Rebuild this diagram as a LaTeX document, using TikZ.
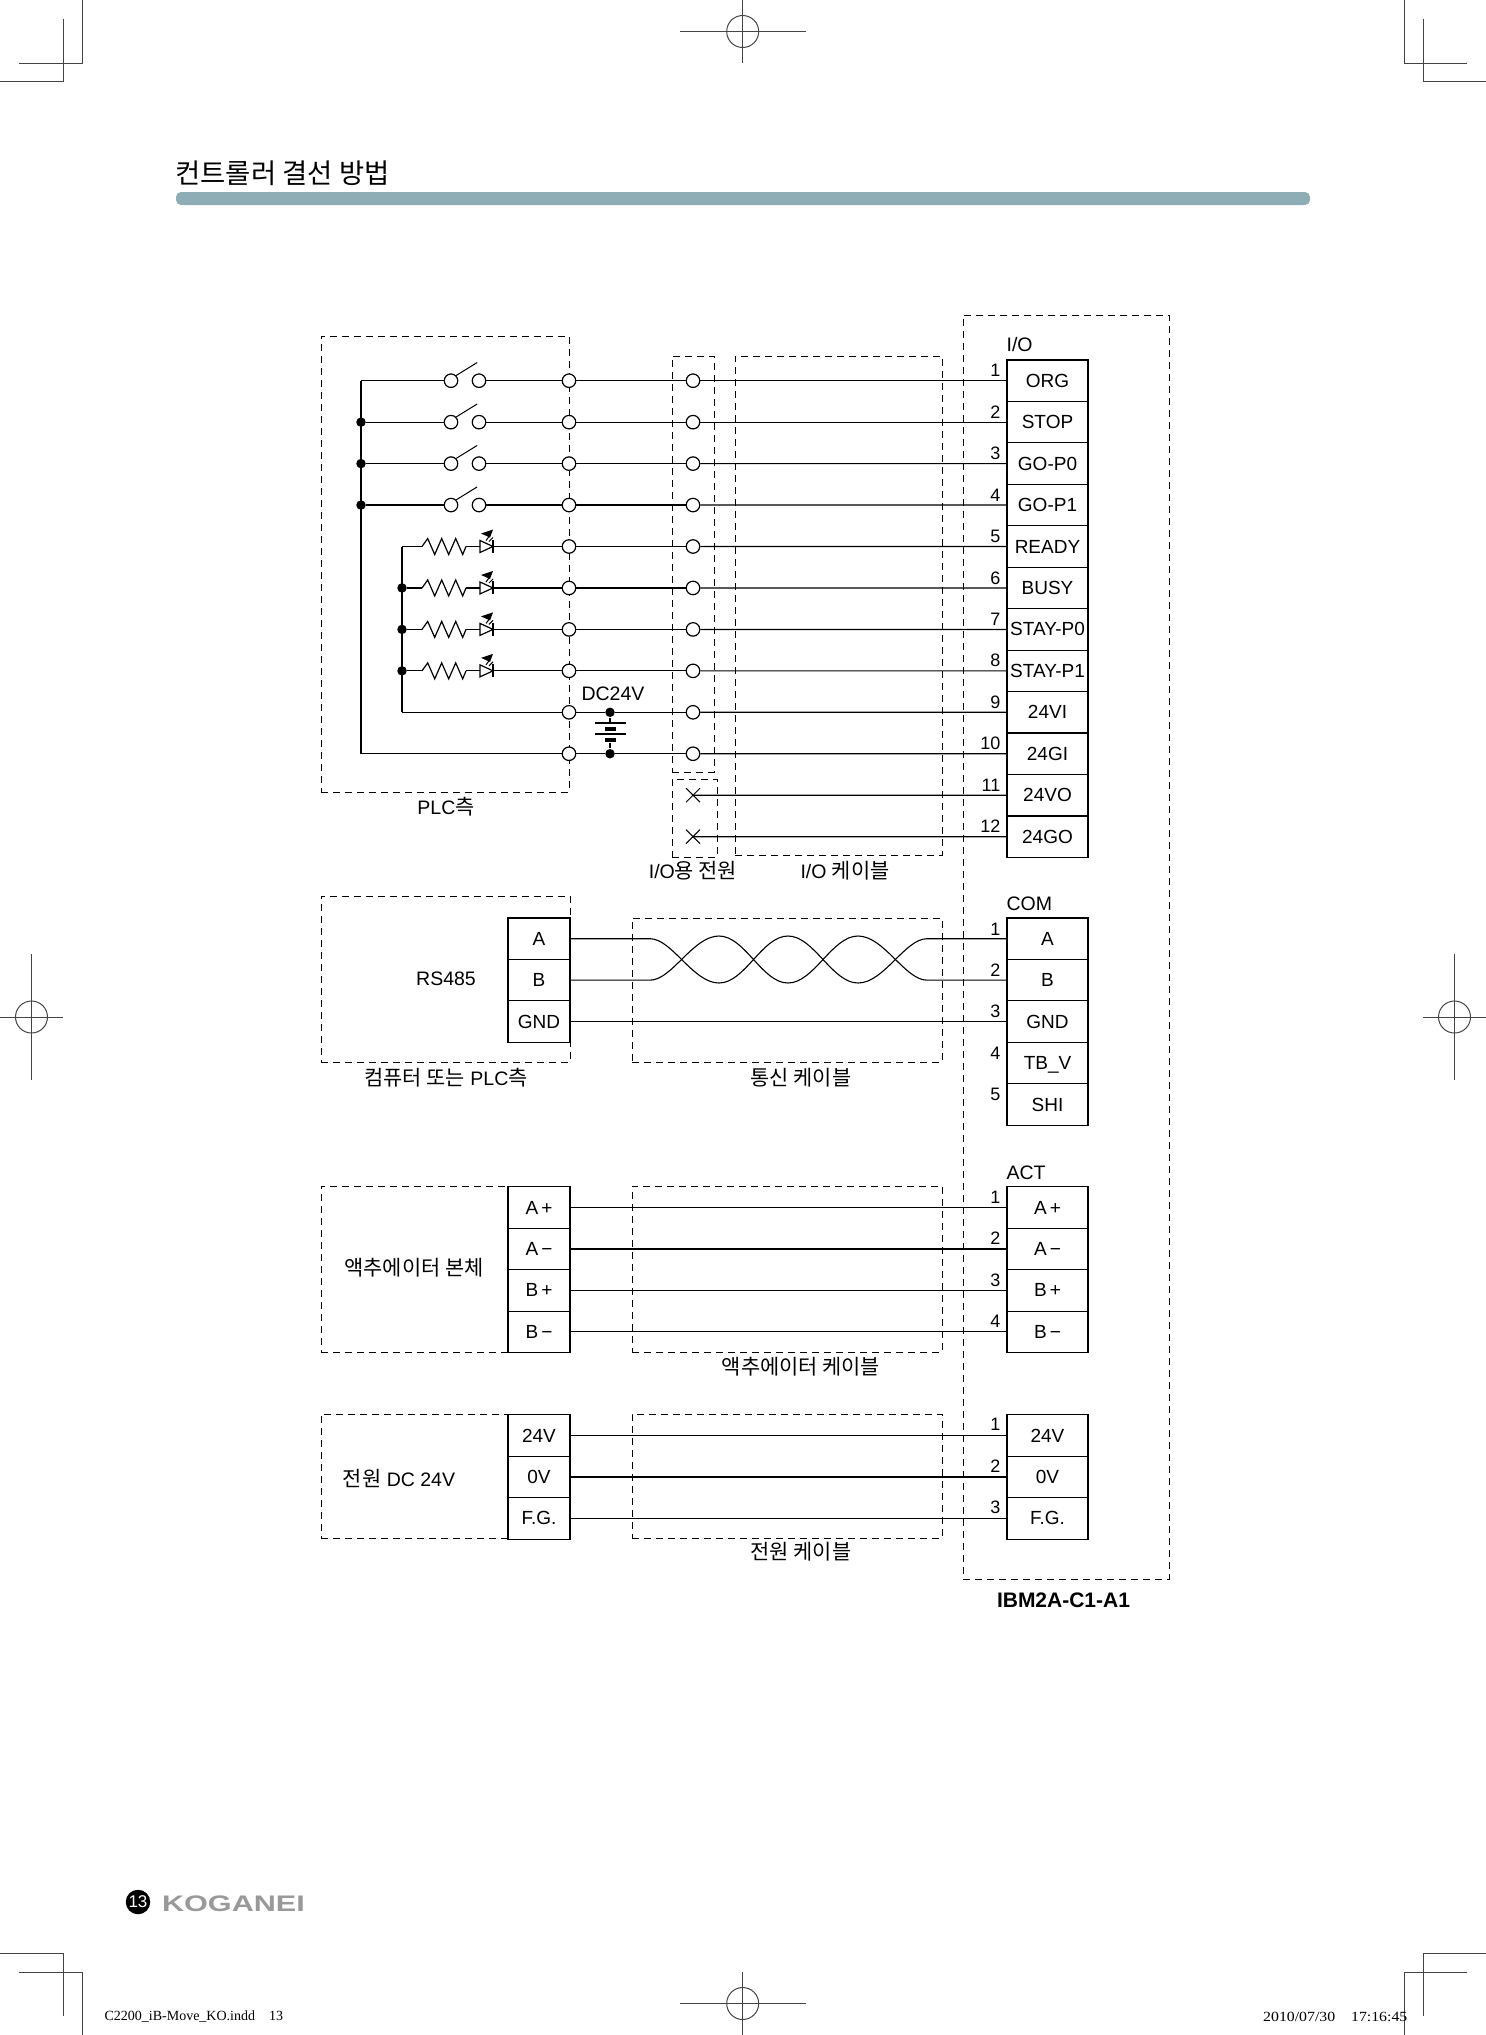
\documentclass[tikz,border=0pt]{standalone}
\usepackage{fontspec}
\usepackage{xcolor}
\usepackage{tikz}
\usetikzlibrary{shapes.misc}
\setmainfont{Liberation Sans}
\newfontfamily\krfont[Scale=1.07]{Noto Sans CJK KR}
\newfontfamily\footfont{Liberation Serif}
\newcommand{\krtext}[1]{{\krfont #1}}
\definecolor{barcol}{HTML}{8FADB5}
\definecolor{markcol}{HTML}{444444}
\definecolor{logocol}{HTML}{999999}

\tikzset{
	pics/resistor/.style={code={
		\coordinate (-in) at (-22,0);
		\coordinate (-out) at (22,0);
		\draw (-in) -- (-16.3,-8) -- (-9.3,8) -- (-2.3,-8) -- (4.7,8) -- (11.7,-8) -- (18.7,8) -- (-out);
	}},
	pics/led/.style={code={
		\coordinate (-in) at (0,0);
		\coordinate (-out) at (13,0);
		\draw[fill=white] (0,-6) -- (13,0) -- (0,6) -- cycle;
		\draw (13,-6.5) -- (13,6.5);
		\fill (1,-13) -- (13,-17) -- (10,-9) -- cycle;
		\draw[line width=1pt] (6,-6) -- (9,-10) (9,-5) -- (13,-9);
	}},
	pics/regmark/.style n args={2}{code={
		\draw[markcol, line width=1pt] (0,0) circle (16);
		\draw[markcol, line width=1pt] (-#1,0) -- (#1,0) (0,-#2) -- (0,#2);
	}}
}

\begin{document}
\begin{tikzpicture}[x=1pt,y=-1pt,line width=1.2pt,node distance=41.45pt,
	term node/.style={circle, draw, fill=white, minimum size=13.5pt, inner sep=0pt},
	dot node/.style={circle, fill=black, minimum size=9.5pt, inner sep=0pt},
	x node/.style={cross out, draw, line width=1pt, minimum size=13pt, inner sep=0pt},
	pin node/.style={rectangle, draw, fill=white, minimum width=81pt, minimum height=41.45pt, inner sep=0pt, text height=13pt, text depth=0pt, font=\fontsize{19}{22}\selectfont},
	src node/.style={pin node, minimum width=62pt},
	num node/.style={anchor=east, inner sep=0pt, font=\fontsize{18}{20}\selectfont},
	txt node/.style={inner sep=0pt, font=\fontsize{19.5}{22}\selectfont},
	dash box/.style={rectangle, draw, dash pattern=on 7pt off 5pt, line width=0.95pt, inner sep=0pt},
	plate long/.style={rectangle, fill=black, minimum width=31pt, minimum height=1.3pt, inner sep=0pt},
	plate short/.style={rectangle, fill=black, minimum width=11pt, minimum height=4.5pt, inner sep=0pt}]
	\useasboundingbox (0,0) rectangle (1486,2035);
	
	% Crop marks
	\draw[markcol, line width=1pt] (82,0) -- (82,63) -- (19,63) (63,19) -- (63,81) -- (0,81);
	\draw[markcol, line width=1pt] (1404,0) -- (1404,63) -- (1467,63) (1423,19) -- (1423,81) -- (1486,81);
	\draw[markcol, line width=1pt] (0,1953) -- (63,1953) -- (63,2016) (19,1972) -- (82,1972) -- (82,2035);
	\draw[markcol, line width=1pt] (1486,1953) -- (1423,1953) -- (1423,2016) (1467,1972) -- (1404,1972) -- (1404,2035);
	\pic at (742.7,31.5) {regmark={63}{31.5}};
	\pic at (742.7,2003.5) {regmark={63}{31.5}};
	\pic at (31.5,1017) {regmark={31.5}{63}};
	\pic at (1454.5,1017) {regmark={31.5}{63}};
	
	% Header and footer
	\node[inner sep=0pt, font=\fontsize{25.6}{30}\selectfont] (title) at (282.5,173) {\krtext{컨트롤러 결선 방법}};
	\node[fill=barcol, rounded corners=5pt, minimum width=1134pt, minimum height=13pt, inner sep=0pt] (bar) at (743,198.5) {};
	\node[circle, fill=black, text=white, minimum size=24.5pt, inner sep=0pt, font=\fontsize{17}{18}\selectfont] (pageno) at (138,1902) {13};
	\node[text=logocol, xscale=1.36, inner sep=0pt, font=\fontsize{22.5}{24}\selectfont\bfseries] (logo) at (233.5,1904) {KOGANEI};
	\node[anchor=west, inner sep=0pt, font=\fontsize{14}{15}\footfont] (foot1) at (104,2017) {C2200\_iB-Move\_KO.indd\hspace{1em}13};
	\node[anchor=east, xscale=1.13, inner sep=0pt, font=\fontsize{14}{15}\footfont] (foot2) at (1408,2017) {2010/07/30\hspace{1em}17:16:45};
	
	% Dashed boxes
	\node[dash box, minimum width=248pt, minimum height=456pt] (plcbox) at (445,564) {};
	\node[dash box, minimum width=42pt, minimum height=416pt] (iobox) at (693,564) {};
	\node[dash box, minimum width=45pt, minimum height=78pt] (ncbox) at (694.5,818) {};
	\node[dash box, minimum width=207pt, minimum height=499pt] (iocable) at (838.5,605.5) {};
	\node[dash box, minimum width=206pt, minimum height=1264pt] (ctrlbox) at (1066,947) {};
	\node[dash box, minimum width=249pt, minimum height=166pt] (rsbox) at (445.5,979) {};
	\node[dash box, minimum width=310pt, minimum height=144pt] (comcable) at (787,990) {};
	\node[dash box, minimum width=249pt, minimum height=166pt] (actbox) at (445.5,1269) {};
	\node[dash box, minimum width=310pt, minimum height=166pt] (actcable) at (787,1269) {};
	\node[dash box, minimum width=249pt, minimum height=124pt] (pwrbox) at (445.5,1476) {};
	\node[dash box, minimum width=310pt, minimum height=124pt] (pwrcable) at (787,1476) {};
	
	% I/O connector
	\node[pin node] (p1) at (1047.5,380.7) {ORG};
	\node[pin node] (p2) [below of=p1] {STOP};
	\node[pin node] (p3) [below of=p2] {GO-P0};
	\node[pin node] (p4) [below of=p3] {GO-P1};
	\node[pin node] (p5) [below of=p4] {READY};
	\node[pin node] (p6) [below of=p5] {BUSY};
	\node[pin node] (p7) [below of=p6] {STAY-P0};
	\node[pin node] (p8) [below of=p7] {STAY-P1};
	\node[pin node] (p9) [below of=p8] {24VI};
	\node[pin node] (p10) [below of=p9] {24GI};
	\node[pin node] (p11) [below of=p10] {24VO};
	\node[pin node] (p12) [below of=p11] {24GO};
	
	% Terminals on the I/O power box
	\node[term node] (u1) at (693,380.7) {};
	\node[term node] (u2) at (693,422.15) {};
	\node[term node] (u3) at (693,463.6) {};
	\node[term node] (u4) at (693,505.05) {};
	\node[term node] (u5) at (693,546.5) {};
	\node[term node] (u6) at (693,587.95) {};
	\node[term node] (u7) at (693,629.4) {};
	\node[term node] (u8) at (693,670.85) {};
	\node[term node] (u9) at (693,712.3) {};
	\node[term node] (u10) at (693,753.75) {};
	\node[x node] (x11) at (693,795.2) {};
	\node[x node] (x12) at (693,836.65) {};
	
	% Terminals on the PLC box
	\node[term node] (t1) at (569,380.7) {};
	\node[term node] (t2) at (569,422.15) {};
	\node[term node] (t3) at (569,463.6) {};
	\node[term node] (t4) at (569,505.05) {};
	\node[term node] (t5) at (569,546.5) {};
	\node[term node] (t6) at (569,587.95) {};
	\node[term node] (t7) at (569,629.4) {};
	\node[term node] (t8) at (569,670.85) {};
	\node[term node] (t9) at (569,712.3) {};
	\node[term node] (t10) at (569,753.75) {};
	
	% Switches
	\node[term node] (s1a) at (451,380.7) {};
	\node[term node] (s1b) at (479,380.7) {};
	\node[term node] (s2a) at (451,422.15) {};
	\node[term node] (s2b) at (479,422.15) {};
	\node[term node] (s3a) at (451,463.6) {};
	\node[term node] (s3b) at (479,463.6) {};
	\node[term node] (s4a) at (451,505.05) {};
	\node[term node] (s4b) at (479,505.05) {};
	\draw[line width=1pt] (s1a.45) -- ++(21,-13);
	\draw[line width=1pt] (s2a.45) -- ++(21,-13);
	\draw[line width=1pt] (s3a.45) -- ++(21,-13);
	\draw[line width=1pt] (s4a.45) -- ++(21,-13);
	
	% Resistors and LEDs
	\pic (r5) at (444,546.5) {resistor};
	\pic (r6) at (444,587.95) {resistor};
	\pic (r7) at (444,629.4) {resistor};
	\pic (r8) at (444,670.85) {resistor};
	\pic (l5) at (480,546.5) {led};
	\pic (l6) at (480,587.95) {led};
	\pic (l7) at (480,629.4) {led};
	\pic (l8) at (480,670.85) {led};
	
	% Common lines
	\coordinate (bus1) at (361,380.7);
	\node[dot node] (d2) at (361,422.15) {};
	\node[dot node] (d3) at (361,463.6) {};
	\node[dot node] (d4) at (361,505.05) {};
	\coordinate (bus10) at (361,753.75);
	\coordinate (bus5) at (402,546.5);
	\node[dot node] (d6) at (402,587.95) {};
	\node[dot node] (d7) at (402,629.4) {};
	\node[dot node] (d8) at (402,670.85) {};
	\coordinate (bus9) at (402,712.3);
	
	% Battery
	\node[txt node] (dc) at (613,694) {DC24V};
	\node[dot node] (b1) at (610,712.3) {};
	\node[dot node] (b2) at (610,753.75) {};
	\node[plate long] (bp1) at (610,723) {};
	\node[plate short] (bp2) at (610,729) {};
	\node[plate long] (bp3) at (610,734) {};
	\node[plate short] (bp4) at (610,740) {};
	
	\path
	(bus1) edge (bus10)
	(bus1) edge (s1a) (s1b) edge (t1) (t1) edge (u1) (u1) edge (p1)
	(d2) edge (s2a) (s2b) edge (t2) (t2) edge (u2) (u2) edge (p2)
	(d3) edge (s3a) (s3b) edge (t3) (t3) edge (u3) (u3) edge (p3)
	(d4) edge (s4a) (s4b) edge (t4) (t4) edge (u4) (u4) edge (p4)
	
	(bus5) edge (bus9)
	(bus5) edge (r5-in) (r5-out) edge (l5-in) (l5-out) edge (t5) (t5) edge (u5) (u5) edge (p5)
	(d6) edge (r6-in) (r6-out) edge (l6-in) (l6-out) edge (t6) (t6) edge (u6) (u6) edge (p6)
	(d7) edge (r7-in) (r7-out) edge (l7-in) (l7-out) edge (t7) (t7) edge (u7) (u7) edge (p7)
	(d8) edge (r8-in) (r8-out) edge (l8-in) (l8-out) edge (t8) (t8) edge (u8) (u8) edge (p8)
	
	(bus9) edge (t9) (t9) edge (b1) (b1) edge (u9) (u9) edge (p9)
	(bus10) edge (t10) (t10) edge (b2) (b2) edge (u10) (u10) edge (p10)
	(b1) edge (bp1) (bp4) edge (b2)
	(x11.center) edge (p11)
	(x12.center) edge (p12);
	
	% COM
	\node[src node] (a1) at (539,938.7) {A};
	\node[src node] (a2) [below of=a1] {B};
	\node[src node] (a3) [below of=a2] {GND};
	\node[pin node] (c1) at (1047.5,938.7) {A};
	\node[pin node] (c2) [below of=c1] {B};
	\node[pin node] (c3) [below of=c2] {GND};
	\node[pin node] (c4) [below of=c3] {TB\_V};
	\node[pin node] (c5) [below of=c4] {SHI};
	\coordinate (ta1) at (650,938.7);
	\coordinate (ta2) at (650,980.15);
	\coordinate (tc1) at (927,938.7);
	\coordinate (tc2) at (927,980.15);
	\draw[line width=1.1pt] (a1) -- (ta1) .. controls (672,938.7) and (693,983) .. (719,983) .. controls (745,983) and (762,936) .. (788,936) .. controls (814,936) and (832,983) .. (858,983) .. controls (884,983) and (905,938.7) .. (tc1) -- (c1);
	\draw[line width=1.1pt] (a2) -- (ta2) .. controls (672,980.15) and (693,936) .. (719,936) .. controls (745,936) and (762,983) .. (788,983) .. controls (814,983) and (832,936) .. (858,936) .. controls (884,936) and (905,980.15) .. (tc2) -- (c2);
	\path (a3) edge (c3);
	
	% ACT
	\node[src node] (e1) at (539,1207.5) {A\kern3pt+};
	\node[src node] (e2) [below of=e1] {A\kern3pt−};
	\node[src node] (e3) [below of=e2] {B\kern3pt+};
	\node[src node] (e4) [below of=e3] {B\kern3pt−};
	\node[pin node] (f1) at (1047.5,1207.5) {A\kern3pt+};
	\node[pin node] (f2) [below of=f1] {A\kern3pt−};
	\node[pin node] (f3) [below of=f2] {B\kern3pt+};
	\node[pin node] (f4) [below of=f3] {B\kern3pt−};
	\path (e1) edge (f1) (e2) edge (f2) (e3) edge (f3) (e4) edge (f4);
	
	% Power
	\node[src node] (g1) at (539,1435.5) {24V};
	\node[src node] (g2) [below of=g1] {0V};
	\node[src node] (g3) [below of=g2] {F.G.};
	\node[pin node] (h1) at (1047.5,1435.5) {24V};
	\node[pin node] (h2) [below of=h1] {0V};
	\node[pin node] (h3) [below of=h2] {F.G.};
	\path (g1) edge (h1) (g2) edge (h2) (g3) edge (h3);
	
	% Pin numbers
	\node[num node] (n1) at (1001,370) {1};
	\node[num node] (n2) at (1001,412) {2};
	\node[num node] (n3) at (1001,453) {3};
	\node[num node] (n4) at (1001,495) {4};
	\node[num node] (n5) at (1001,536) {5};
	\node[num node] (n6) at (1001,578) {6};
	\node[num node] (n7) at (1001,619) {7};
	\node[num node] (n8) at (1001,660) {8};
	\node[num node] (n9) at (1001,702) {9};
	\node[num node] (n10) at (1001,743) {10};
	\node[num node] (n11) at (1001,785) {11};
	\node[num node] (n12) at (1001,826) {12};
	\node[num node] (m1) at (1001,929) {1};
	\node[num node] (m2) at (1001,970) {2};
	\node[num node] (m3) at (1001,1011) {3};
	\node[num node] (m4) at (1001,1053) {4};
	\node[num node] (m5) at (1001,1094) {5};
	\node[num node] (k1) at (1001,1197) {1};
	\node[num node] (k2) at (1001,1238) {2};
	\node[num node] (k3) at (1001,1280) {3};
	\node[num node] (k4) at (1001,1321) {4};
	\node[num node] (q1) at (1001,1424) {1};
	\node[num node] (q2) at (1001,1466) {2};
	\node[num node] (q3) at (1001,1507) {3};
	
	% Labels
	\node[txt node, anchor=west] (iolab) at (1006,345) {I/O};
	\node[txt node, anchor=west] (comlab) at (1006,904) {COM};
	\node[txt node, anchor=west] (actlab) at (1006,1173) {ACT};
	\node[txt node] (plclab) at (446,807) {PLC\krtext{측}};
	\node[txt node] (iopwrlab) at (693,871) {I/O\krtext{용 전원}};
	\node[txt node] (iocablab) at (845,871) {I/O \krtext{케이블}};
	\node[txt node] (rslab) at (446,979) {RS485};
	\node[txt node] (pclab) at (446,1078) {\krtext{컴퓨터 또는} PLC\krtext{측}};
	\node[txt node] (comcablab) at (801,1078) {\krtext{통신 케이블}};
	\node[txt node] (actlab2) at (414,1268) {\krtext{액추에이터 본체}};
	\node[txt node] (actcablab) at (801,1367) {\krtext{액추에이터 케이블}};
	\node[txt node] (pwrlab) at (399,1478) {\krtext{전원} DC 24V};
	\node[txt node] (pwrcablab) at (801,1552) {\krtext{전원 케이블}};
	\node[txt node, font=\fontsize{21}{22}\selectfont\bfseries] (model) at (1063.5,1600) {IBM2A-C1-A1};
\end{tikzpicture}
\end{document}
